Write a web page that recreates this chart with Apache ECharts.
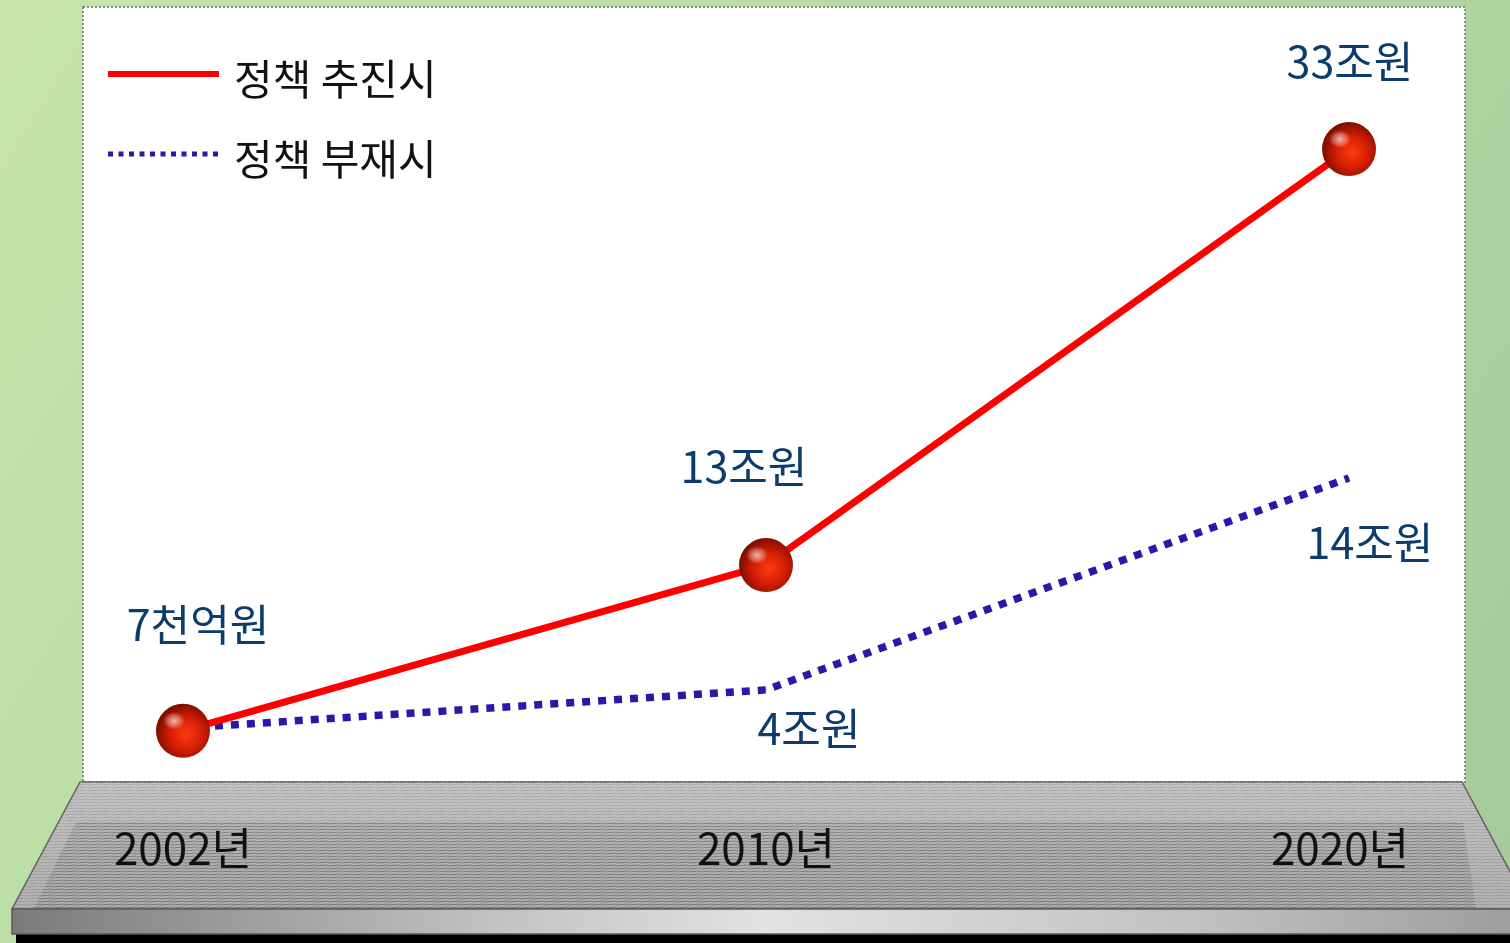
<!DOCTYPE html>
<html>
<head>
<meta charset="utf-8">
<script src="https://cdn.jsdelivr.net/npm/echarts@6/dist/echarts.min.js"></script>
<style>
html,body{margin:0;padding:0;width:1510px;height:943px;overflow:hidden;}
#chart{width:1510px;height:943px;}
</style>
</head>
<body>
<div id="chart"></div>
<script>
// ---- data ----
const years = ['2002년', '2010년', '2020년'];
const seriesNames = ['정책 추진시', '정책 부재시'];
// plotted heights (the reference is not drawn to a linear scale)
const redHeight = [2.8, 28.3, 92.3];
const blueHeight = [3.2, 9.1, 41.7];
// value labels as printed on the chart
const redLabels = ['7천억원', '13조원', '33조원'];
const blueLabels = ['', '4조원', '14조원'];

// ---- styling / layout ----
const FONT = '"Noto Sans CJK KR", "Noto Sans", sans-serif';
const LABEL_COLOR = '#0b3c6d';
const redOffsets = [[15, -106], [-22, -98], [1, -87]];
const blueOffsets = [[0, 0], [43, 39], [21, 65]];

function hatch(dark) {
  const c = document.createElement('canvas');
  c.width = 12; c.height = 6;
  const g = c.getContext('2d');
  for (let y = 0; y < 6; y++) {
    for (let x = 0; x < 12; x++) {
      const onLine = (y % 3 === 1);
      const diag = ((x + 4 * y) % 12) < 4;
      let a = 0;
      if (onLine) a = dark ? 0.14 : 0.08;
      else a = dark ? -0.08 : -0.10;
      if (diag) a += dark ? 0.10 : 0.07;
      g.fillStyle = a > 0 ? 'rgba(60,60,60,' + a + ')' : 'rgba(255,255,255,' + (-a) + ')';
      g.fillRect(x, y, 1, 1);
    }
  }
  return c;
}

const chart = echarts.init(document.getElementById('chart'), null, {renderer: 'canvas'});

const sphere = {
  type: 'radial', x: 0.56, y: 0.56, r: 0.56,
  colorStops: [
    {offset: 0, color: '#ff3a12'},
    {offset: 0.55, color: '#d11d02'},
    {offset: 1, color: '#7c0e00'}
  ]
};
const gloss = {
  type: 'radial', x: 0.5, y: 0.5, r: 0.5,
  colorStops: [
    {offset: 0, color: 'rgba(255,255,255,0.85)'},
    {offset: 0.6, color: 'rgba(255,220,210,0.45)'},
    {offset: 1, color: 'rgba(255,200,190,0)'}
  ]
};

const option = {
  animation: false,
  backgroundColor: {
    type: 'linear', x: 0, y: 0, x2: 1, y2: 1,
    colorStops: [
      {offset: 0, color: '#c6e6aa'},
      {offset: 0.5, color: '#b4d9a3'},
      {offset: 1, color: '#a6c99c'}
    ]
  },
  graphic: {
    elements: [
      // white panel
      {type: 'rect', z: -5, shape: {x: 83, y: 7, width: 1382, height: 775},
       style: {fill: '#ffffff', stroke: '#8a8a8a', lineWidth: 2, lineDash: [2, 2]}},
      // black shadow strip
      {type: 'rect', z: -5, shape: {x: 16, y: 933, width: 1494, height: 10},
       style: {fill: '#000000'}},
      // top surface of platform
      {type: 'polygon', z: -4, shape: {points: [[80, 782], [1462, 782], [1530, 909], [12, 909]]},
       style: {fill: {type: 'linear', x: 0, y: 0, x2: 0, y2: 1, colorStops: [
         {offset: 0, color: '#bdbdbd'}, {offset: 1, color: '#a9a9a9'}]},
         stroke: '#5e5e5e', lineWidth: 1.5}},
      {type: 'polygon', z: -4, shape: {points: [[80, 782], [1462, 782], [1530, 909], [12, 909]]},
       style: {fill: {image: hatch(false), repeat: 'repeat'}}},
      // inner darker region
      {type: 'polygon', z: -4, shape: {points: [[76, 822], [1463, 822], [1476, 908], [34, 908]]},
       style: {fill: 'rgba(0,0,0,0.08)'}},
      {type: 'polygon', z: -4, shape: {points: [[76, 822], [1463, 822], [1476, 908], [34, 908]]},
       style: {fill: {image: hatch(true), repeat: 'repeat'}}},
      // front face
      {type: 'rect', z: -3, shape: {x: 12, y: 909, width: 1510, height: 25},
       style: {fill: {type: 'linear', x: 0, y: 0, x2: 1, y2: 0, colorStops: [
         {offset: 0, color: '#7b7b7b'},
         {offset: 0.33, color: '#c4c4c4'},
         {offset: 0.5, color: '#e2e2e2'},
         {offset: 0.78, color: '#c2c2c2'},
         {offset: 1, color: '#9c9c9c'}]},
         stroke: '#5a5a5a', lineWidth: 1.5}}
    ]
  },
  legend: {
    orient: 'vertical',
    left: 105,
    top: 58,
    padding: 0,
    itemWidth: 111,
    itemHeight: 40,
    itemGap: 38,
    itemStyle: {opacity: 0},
    data: [
      {name: seriesNames[0], lineStyle: {width: 6, type: 'solid'}},
      {name: seriesNames[1], lineStyle: {width: 5, type: [5, 5.5], cap: 'butt'}}
    ],
    formatter: name => '{t|' + name + '}',
    textStyle: {
      fontSize: 42, color: '#111111', fontFamily: FONT, padding: [0, 0, 0, 10],
      rich: {t: {fontSize: 42, color: '#111111', fontFamily: FONT, padding: [10, 0, 0, 0]}}
    }
  },
  grid: {left: 183, right: 161, top: 99, bottom: 194, containLabel: false},
  xAxis: {
    type: 'category',
    data: years,
    boundaryGap: false,
    z: 10,
    axisLine: {show: false},
    axisTick: {show: false},
    splitLine: {show: false},
    axisLabel: {
      margin: 77, fontSize: 44, color: '#111111', fontFamily: FONT,
      formatter: (v, i) => i === 2 ? '{s|' + v + '}' : v,
      rich: {s: {fontSize: 44, color: '#111111', fontFamily: FONT, padding: [0, 18, 0, 0]}}
    }
  },
  yAxis: {
    type: 'value', min: 0, max: 100, show: false,
    splitLine: {show: false}
  },
  series: [
    {
      name: seriesNames[1],
      type: 'line',
      z: 3,
      data: blueHeight.map((v, i) => ({
        value: v,
        label: {show: blueLabels[i] !== '', offset: blueOffsets[i]}
      })),
      symbol: 'circle',
      symbolSize: 1,
      itemStyle: {color: '#2b18a8'},
      lineStyle: {color: '#2b18a8', width: 7.5, type: [8, 8], cap: 'butt'},
      label: {
        show: true, position: 'inside',
        formatter: p => blueLabels[p.dataIndex],
        fontSize: 43, color: LABEL_COLOR, fontFamily: FONT,
        textBorderWidth: 0
      },
      emphasis: {disabled: true},
      silent: true
    },
    {
      name: seriesNames[0],
      type: 'line',
      z: 5,
      data: redHeight.map((v, i) => ({
        value: v,
        label: {offset: redOffsets[i]}
      })),
      symbol: 'circle',
      symbolSize: 54,
      showAllSymbol: true,
      itemStyle: {color: sphere, opacity: 1},
      lineStyle: {color: '#ff0000', width: 7},
      label: {
        show: true, position: 'inside',
        formatter: p => redLabels[p.dataIndex],
        fontSize: 43, color: LABEL_COLOR, fontFamily: FONT,
        textBorderWidth: 0
      },
      emphasis: {disabled: true},
      silent: true
    },
    {
      name: 'gloss',
      type: 'scatter',
      z: 6,
      data: redHeight,
      symbol: 'circle',
      symbolSize: [22, 18],
      symbolOffset: [-9, -10],
      itemStyle: {color: gloss},
      emphasis: {disabled: true},
      silent: true
    }
  ]
};
chart.setOption(option);
</script>
</body>
</html>
